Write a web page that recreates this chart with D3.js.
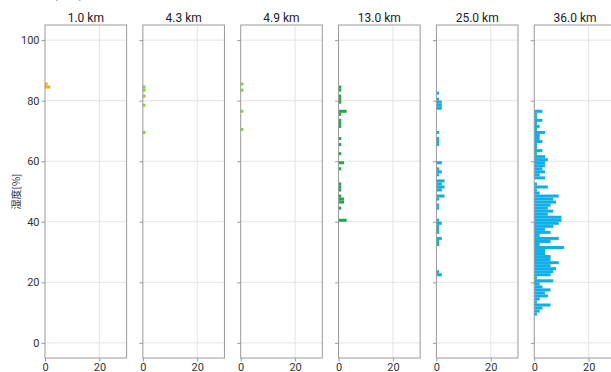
<!DOCTYPE html>
<html><head><meta charset="utf-8">
<script src="https://cdn.jsdelivr.net/npm/d3@7"></script>
<style>body{margin:0;background:#fff}svg{display:block}</style>
</head><body>
<svg id="c" width="611" height="372"></svg>
<script>
// Panel titles (altitude)
const altitudes = ["1.0 km", "4.3 km", "4.9 km", "13.0 km", "25.0 km", "36.0 km"];
const colors = ["#f5b300", "#8fd13a", "#8fd13a", "#1caa4e", "#0fb0ea", "#0fb0ea"];
// Humidity bins (lower edge, %) and counts for each altitude
const bins1 = [85, 84];
const counts1 = [1, 2];
const bins2 = [84, 83, 81, 78, 69];
const counts2 = [1, 1, 1, 1, 1];
const bins3 = [85, 83, 76, 70];
const counts3 = [1, 1, 1, 1];
const bins4 = [84, 83, 81, 80, 79, 76, 75, 73, 72, 71, 67, 65, 62, 59, 57, 52, 51, 50, 48, 47, 46, 44, 40];
const counts4 = [1, 1, 1, 1, 1, 3, 1, 1, 1, 1, 1, 1, 1, 2, 1, 1, 1, 1, 1, 2, 2, 1, 3];
const bins5 = [82, 80, 79, 78, 77, 69, 67, 66, 65, 59, 57, 56, 55, 53, 52, 51, 50, 48, 47, 45, 44, 40, 39, 38, 37, 36, 34, 33, 32, 23, 22];
const counts5 = [1, 1, 2, 2, 2, 1, 1, 1, 1, 2, 1, 2, 1, 3, 2, 3, 2, 3, 1, 1, 1, 1, 2, 1, 1, 1, 2, 1, 1, 1, 2];
const bins6 = [76, 75, 74, 73, 72, 71, 70, 69, 68, 67, 66, 65, 64, 63, 62, 61, 60, 59, 58, 57, 56, 55, 54, 53, 52, 51, 50, 49, 48, 47, 46, 45, 44, 43, 42, 41, 40, 39, 38, 37, 36, 35, 34, 33, 32, 31, 30, 29, 28, 27, 26, 25, 24, 23, 22, 21, 20, 19, 18, 17, 16, 15, 14, 13, 12, 11, 10, 9];
const counts6 = [3, 1, 1, 3, 1, 2, 1, 4, 2, 2, 3, 1, 1, 3, 1, 4, 5, 4, 4, 3, 4, 2, 4, 0, 1, 5, 1, 2, 9, 7, 8, 6, 5, 7, 5, 10, 10, 9, 7, 4, 6, 2, 9, 6, 2, 11, 4, 4, 6, 6, 9, 6, 8, 7, 6, 1, 7, 2, 3, 6, 4, 5, 2, 1, 6, 3, 2, 1];
const yTicks = [0, 20, 40, 60, 80, 100];
const xTicks = [0, 20];
const yLabel = "湿度[%]";
const mainTitle = "湿度ヒストグラム";

const series = [[bins1, counts1], [bins2, counts2], [bins3, counts3], [bins4, counts4], [bins5, counts5], [bins6, counts6]];

const svg = d3.select("#c");
const pTop = 25, pBottom = 358, pw = 81.6, left0 = 45, pitch = 97.85;
const y = d3.scaleLinear().domain([-5, 105]).range([pBottom, pTop]);
const x = d3.scaleLinear().domain([0, 30]).range([0, pw]);

svg.append("text").attr("x", 8).attr("y", -4).attr("font-family", "Noto Sans CJK JP")
  .attr("font-weight", "bold").attr("font-size", 38).attr("fill", "#222").text(mainTitle);

series.forEach(([bins, counts], i) => {
  const g = svg.append("g").attr("transform", `translate(${left0 + i * pitch},0)`);
  g.selectAll(".gy").data(yTicks).join("line")
    .attr("x1", 0).attr("x2", pw).attr("y1", d => y(d)).attr("y2", d => y(d))
    .attr("stroke", "#e3e3e3").attr("stroke-width", 1);
  g.selectAll(".gx").data(xTicks.filter(d => d > 0)).join("line")
    .attr("x1", d => x(d)).attr("x2", d => x(d)).attr("y1", pTop).attr("y2", pBottom)
    .attr("stroke", "#e3e3e3").attr("stroke-width", 1);
  const data = bins.map((b, k) => ({ b, c: counts[k] })).filter(d => d.c > 0);
  g.selectAll("rect.bar").data(data).join("rect")
    .attr("x", x(0)).attr("y", d => y(d.b + 1))
    .attr("width", d => x(d.c) - x(0)).attr("height", d => y(d.b) - y(d.b + 1))
    .attr("fill", colors[i]);
  g.append("rect").attr("x", 0).attr("y", pTop).attr("width", pw).attr("height", pBottom - pTop)
    .attr("fill", "none").attr("stroke", "#999").attr("stroke-width", 1);
  const ya = d3.axisLeft(y).tickValues(yTicks).tickSize(3.5).tickPadding(2)
    .tickFormat(i === 0 ? d3.format("d") : () => "");
  const yg = g.append("g").call(ya);
  yg.select(".domain").remove();
  yg.selectAll("line").attr("stroke", "#999");
  yg.selectAll("text").attr("font-family", "Roboto").attr("font-size", 11).attr("fill", "#333");
  const xa = d3.axisBottom(x).tickValues(xTicks).tickSize(3.5).tickPadding(2).tickFormat(d3.format("d"));
  const xg = g.append("g").attr("transform", `translate(0,${pBottom})`).call(xa);
  xg.select(".domain").remove();
  xg.selectAll("line").attr("stroke", "#999");
  xg.selectAll("text").attr("font-family", "Roboto").attr("font-size", 11).attr("fill", "#333");
  g.append("text").attr("x", pw / 2).attr("y", 22).attr("text-anchor", "middle")
    .attr("font-family", "Roboto").attr("font-size", 12).attr("fill", "#222").text(altitudes[i]);
});

svg.append("text").attr("transform", `translate(20,${(pTop + pBottom) / 2}) rotate(-90)`)
  .attr("text-anchor", "middle").attr("font-family", "Noto Sans CJK JP").attr("font-size", 10)
  .attr("fill", "#333").text(yLabel);
</script>
</body></html>
